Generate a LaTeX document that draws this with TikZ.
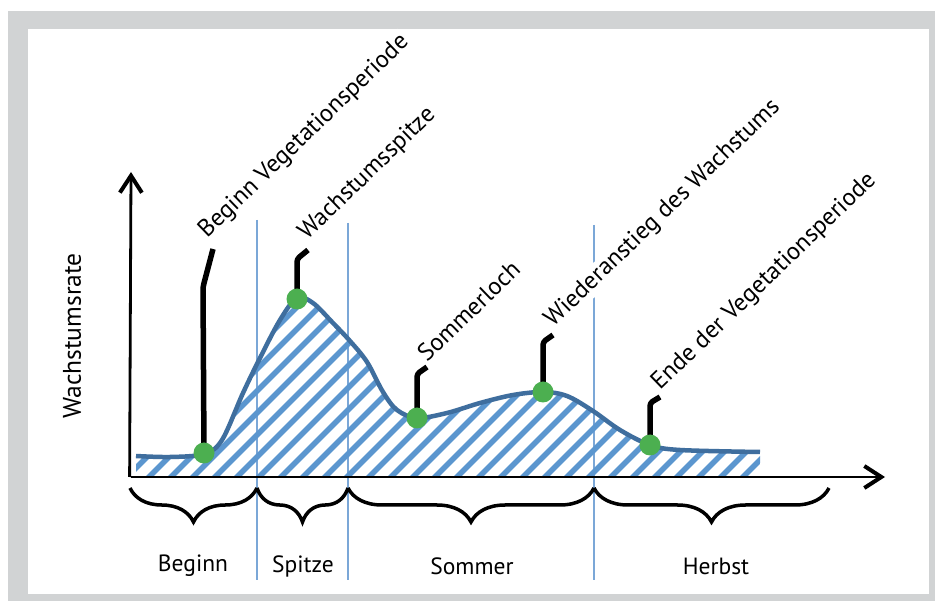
\documentclass[tikz,border=0pt]{standalone}
\usepackage{fontspec}
\setmainfont{PT Sans}
\usetikzlibrary{arrows.meta,decorations.pathreplacing}
\definecolor{framegray}{HTML}{D1D3D4}
\definecolor{curveblue}{HTML}{3F6E9E}
\definecolor{hatchblue}{HTML}{5B96CF}
\definecolor{sepblue}{HTML}{7BA7D7}
\definecolor{dotgreen}{HTML}{4CAF50}
\begin{document}
\begin{tikzpicture}[x=1pt,y=-1pt,
  lbl/.style={font=\fontsize{24.5}{27}\selectfont, rotate=44, anchor=base west, fill=white, inner sep=1.5pt},
  seglbl/.style={font=\fontsize{23.5}{26}\selectfont},
  dot/.style={circle, fill=dotgreen, minimum size=21pt, inner sep=0pt},
  leader/.style={line width=5.5pt, line join=round, rounded corners=3pt},
  sepline/.style={sepblue, line width=2.2pt},
  axisline/.style={line width=2.8pt, -{Straight Barb[length=17pt,width=22pt,line width=4pt]}},
  bracestyle/.style={line width=3.5pt, decorate, decoration={brace, mirror, amplitude=34pt}},
  hatchline/.style={hatchblue, line width=5.5pt},
  curveline/.style={curveblue, line width=4.5pt, line join=round}
]
\useasboundingbox (0,0) rectangle (935,601);
\fill[white] (0,0) rectangle (935,601);
\fill[framegray] (8,11) rectangle (935,601);
\fill[white] (28,29) rectangle (929,594);

% separators
\coordinate (s1t) at (257,220); \coordinate (s1b) at (257,580);
\coordinate (s2t) at (348,223); \coordinate (s2b) at (348,580);
\coordinate (s3t) at (594,225); \coordinate (s3b) at (594,580);
\draw[sepline] (s1t) -- (s1b);
\draw[sepline] (s2t) -- (s2b);
\draw[sepline] (s3t) -- (s3b);

% labels
\node[lbl] (l1) at (206,240) {Beginn Vegetationsperiode};
\node[lbl] (l2) at (306,242) {Wachstumsspitze};
\node[lbl] (l3) at (426,364) {Sommerloch};
\node[lbl] (l4) at (552,329) {Wiederanstieg des Wachstums};
\node[lbl] (l5) at (659,392) {Ende der Vegetationsperiode};

% hatch
\begin{scope}
\clip plot[smooth,tension=0.55] coordinates {(136,456) (170,457) (204,454) (222,440) (243,393) (260,358) (280,320) (297,298) (313,303) (333,323) (350,341) (367,362) (383,392) (397,410) (417,418) (447,413) (480,403) (513,395) (543,392) (567,396) (593,411) (620,430) (650,445) (680,450) (760,452)} -- (760,477) -- (136,477) -- cycle;
\foreach \i in {-12,...,30} \draw[hatchline] ({136+22*\i},490) -- ++(420,-420);
\end{scope}
\draw[curveline] plot[smooth,tension=0.55] coordinates {(136,456) (170,457) (204,454) (222,440) (243,393) (260,358) (280,320) (297,298) (313,303) (333,323) (350,341) (367,362) (383,392) (397,410) (417,418) (447,413) (480,403) (513,395) (543,392) (567,396) (593,411) (620,430) (650,445) (680,450) (760,452)};

% axes
\coordinate (O) at (131,477);
\coordinate (ytip) at (131,172);
\coordinate (xtip) at (885,477);
\draw[axisline] (129.6,477) -- (ytip);
\draw[axisline] (131,477) -- (xtip);
\node[font=\fontsize{25.5}{28}\selectfont, rotate=90] (ylab) at (72,336) {Wachstumsrate};

% dots and leaders
\coordinate (d1) at (204,453);
\coordinate (d2) at (297,299);
\coordinate (d3) at (417,418);
\coordinate (d4) at (543,392);
\coordinate (d5) at (650,445);
\draw[leader] (d1) -- (203,287) -- (213,249);
\draw[leader] (d2) -- (297,259) -- (308,250);
\draw[leader] (d3) -- (417,374) -- (427,367);
\draw[leader] (d4) -- (543,342) -- (553,335);
\draw[leader] (d5) -- (650,403) -- (660,397);
\node[dot] (n1) at (d1) {};
\node[dot] (n2) at (d2) {};
\node[dot] (n3) at (d3) {};
\node[dot] (n4) at (d4) {};
\node[dot] (n5) at (d5) {};

% braces
\coordinate (b0) at (130,488);
\coordinate (b1) at (257,488);
\coordinate (b2) at (348,488);
\coordinate (b3) at (594,488);
\coordinate (b4) at (829,488);
\draw[bracestyle] (b0) -- (b1);
\draw[bracestyle] (b1) -- (b2);
\draw[bracestyle] (b2) -- (b3);
\draw[bracestyle] (b3) -- (b4);
\node[seglbl] (t1) at (193,566) {Beginn};
\node[seglbl] (t2) at (303,566) {Spitze};
\node[seglbl] (t3) at (472,566) {Sommer};
\node[seglbl] (t4) at (716,566) {Herbst};
\end{tikzpicture}
\end{document}
